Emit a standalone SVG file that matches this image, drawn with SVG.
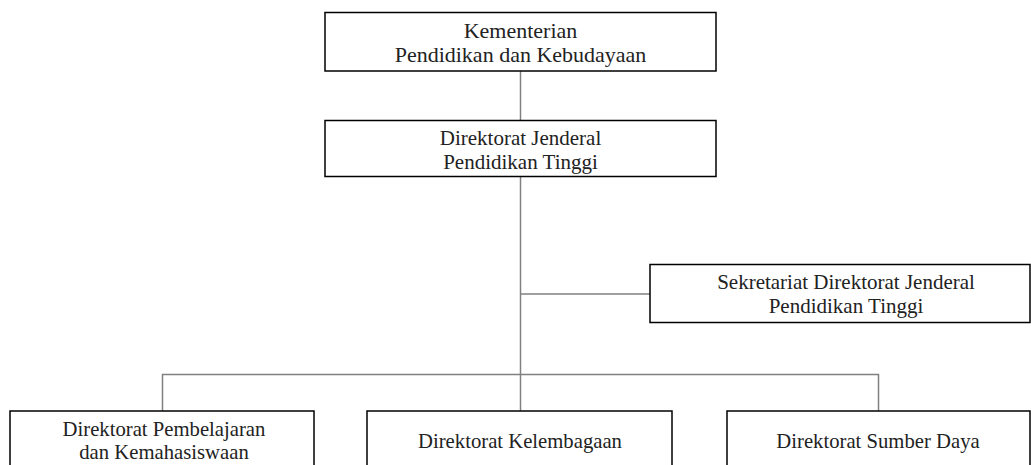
<svg xmlns="http://www.w3.org/2000/svg" width="1031" height="465" viewBox="0 0 1031 465">
<style>
.box{fill:#fff;stroke:#000;stroke-width:1.5}
.t{font-family:"Liberation Serif","Times New Roman",serif;font-size:21px;fill:#222;text-anchor:middle}
.c{stroke:#808080;stroke-width:1.5;fill:none}
</style>
<rect width="1031" height="465" fill="#fff"/>
<g id="connectors">
<line class="c" x1="520.5" y1="71" x2="520.5" y2="121"/>
<line class="c" x1="520.5" y1="177" x2="520.5" y2="411"/>
<line class="c" x1="520.5" y1="294" x2="650" y2="294"/>
<polyline class="c" points="162.5,411 162.5,374.5 878.5,374.5 878.5,411"/>
</g>
<g id="kementerian">
<rect class="box" x="325" y="12.5" width="391" height="58.5"/>
<text class="t" x="520.5" y="38" style="font-size:22px">Kementerian</text>
<text class="t" x="520.5" y="62" style="font-size:22px">Pendidikan dan Kebudayaan</text>
</g>
<g id="dirjen">
<rect class="box" x="325" y="120.5" width="391" height="56"/>
<text class="t" x="520.5" y="145">Direktorat Jenderal</text>
<text class="t" x="520.5" y="169">Pendidikan Tinggi</text>
</g>
<g id="sekretariat">
<rect class="box" x="650" y="264.5" width="380" height="58"/>
<text class="t" x="846" y="289">Sekretariat Direktorat Jenderal</text>
<text class="t" x="846" y="313">Pendidikan Tinggi</text>
</g>
<g id="pembelajaran">
<rect class="box" x="10" y="411" width="304" height="60"/>
<text class="t" x="164" y="436" style="font-size:20.7px">Direktorat Pembelajaran</text>
<text class="t" x="164" y="459" style="font-size:20.7px">dan Kemahasiswaan</text>
</g>
<g id="kelembagaan">
<rect class="box" x="367" y="411" width="305" height="60"/>
<text class="t" x="520" y="448" style="font-size:20.7px">Direktorat Kelembagaan</text>
</g>
<g id="sumberdaya">
<rect class="box" x="727" y="411" width="303" height="60"/>
<text class="t" x="878" y="448" style="font-size:20.7px">Direktorat Sumber Daya</text>
</g>
</svg>
